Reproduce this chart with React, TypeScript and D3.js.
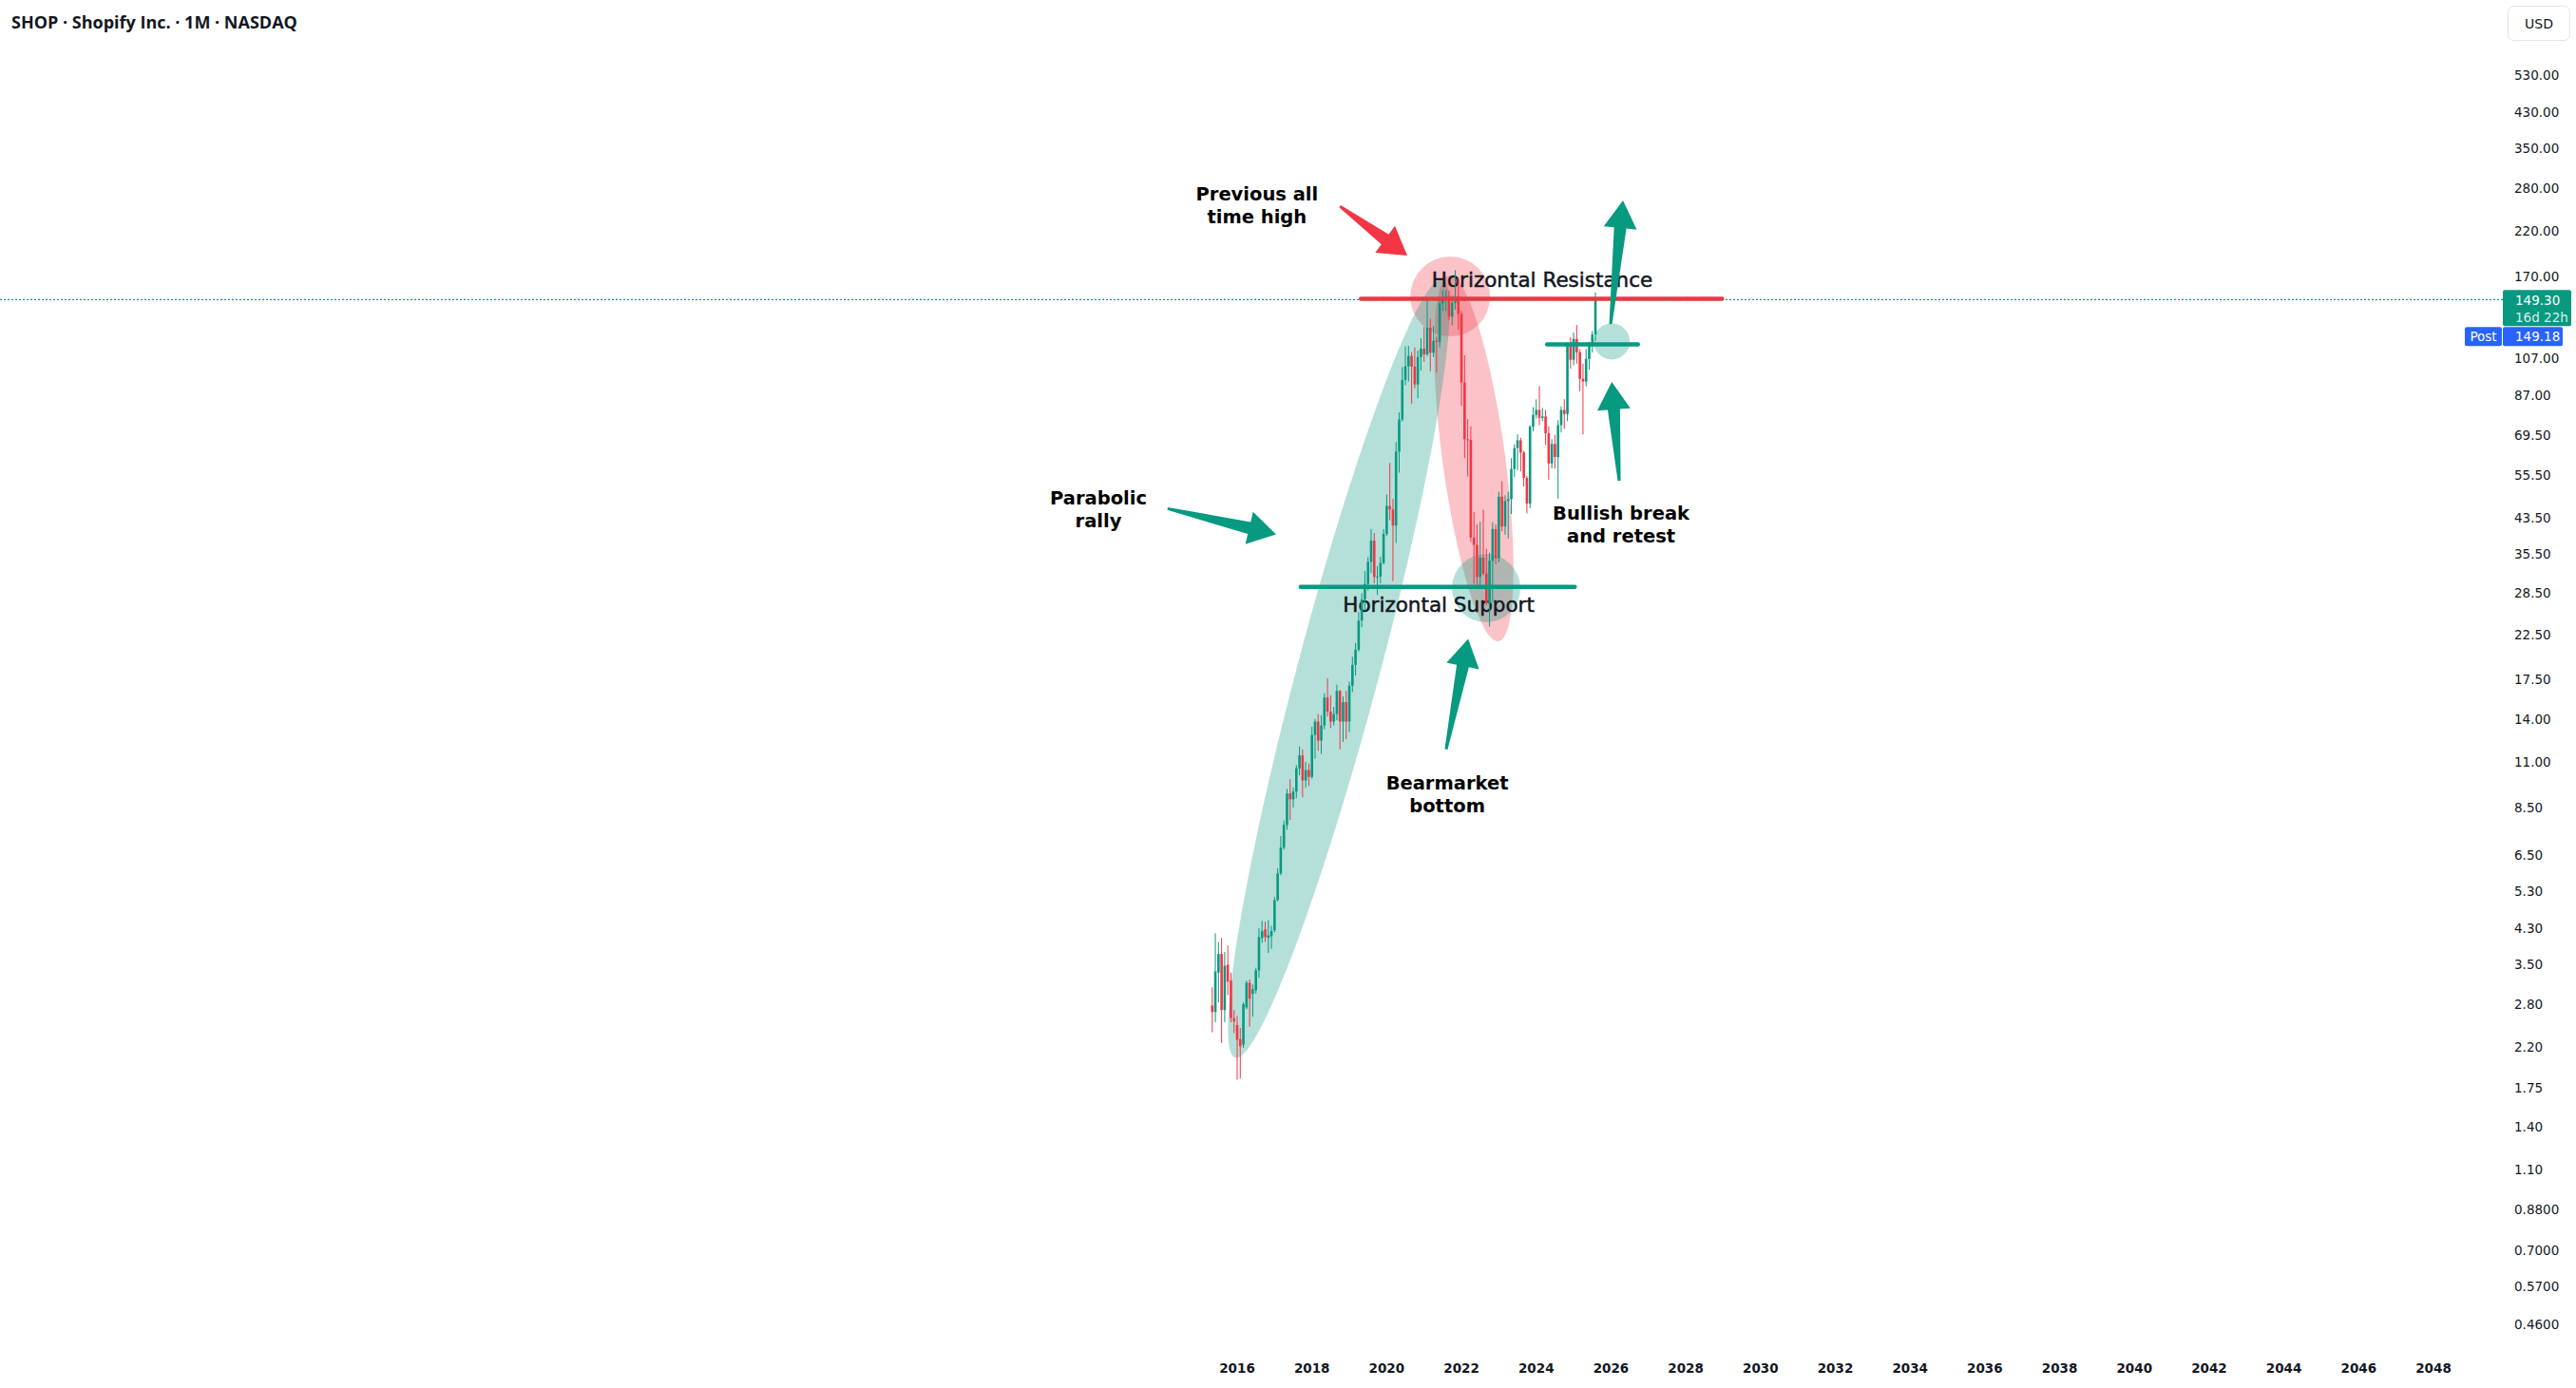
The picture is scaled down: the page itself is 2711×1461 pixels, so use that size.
import * as d3 from "d3";

// SHOP monthly candles (split-adjusted), first bar = May 2015, last bar = Aug 2025
const FIRST_MONTH = "2015-05";

const opens = [
  2.78, 2.68, 3.35, 3.72, 2.71, 3.5, 3.2, 2.59,
  2.49, 2.3, 2.23, 2.75, 3.16, 2.97, 3.03, 3.39, 4.07, 4.27, 4.07, 4.11,
  4.25, 5.04, 5.86, 6.78, 7.7, 9.2, 8.9, 9.3, 10.6, 11.4, 9.9, 10.5,
  10.1, 12.8, 13.8, 12.4, 13.5, 15.8, 14.6, 13.8, 14.4, 16.4, 13.8, 15.4,
  13.8, 16.9, 19.0, 20.7, 24.4, 27.5, 30.0, 34.0, 38.3, 31.2, 31.3, 33.8,
  39.8, 46.6, 45.7, 41.7, 63.3, 75.9, 94.9, 102.4, 108.6, 102.3, 92.5, 108.0,
  113.2, 109.6, 127.4, 110.6, 118.3, 117.6, 146.1, 149.9, 152.4, 135.6, 146.7, 152.2,
  137.7, 93.5, 67.9, 67.6, 39.0, 37.4, 31.2, 34.8, 31.8, 26.9, 34.2, 40.9,
  34.7, 49.1, 41.5, 47.9, 48.4, 57.4, 64.6, 67.5, 63.0, 54.6, 47.2, 72.9,
  77.9, 80.1, 76.6, 77.2, 70.2, 59.2, 66.1, 61.4, 73.5, 80.1, 78.3, 115.6,
  106.3, 119.6, 110.9, 95.5, 94.0, 106.8, 115.3, 122.6,
];

const highs = [
  3.08, 4.18, 3.98, 4.07, 3.76, 3.9, 3.35, 2.71,
  2.62, 2.45, 2.83, 3.2, 3.22, 3.13, 3.44, 4.3, 4.48, 4.46, 4.5, 4.36,
  5.13, 6.03, 7.23, 7.9, 9.44, 9.97, 9.52, 10.8, 12.0, 11.8, 11.0, 10.9,
  13.4, 14.0, 14.4, 14.3, 16.2, 17.6, 16.0, 15.0, 17.0, 16.5, 15.9, 16.4,
  17.3, 19.9, 21.5, 25.6, 28.5, 32.3, 34.9, 40.9, 40.0, 33.2, 35.0, 40.9,
  49.7, 59.4, 48.5, 66.9, 79.0, 102.0, 114.7, 115.0, 111.0, 114.0, 112.0, 120.0,
  128.0, 149.9, 134.0, 128.5, 121.0, 152.0, 157.5, 157.5, 157.0, 152.5, 176.2, 169.0,
  140.0, 109.0, 76.0, 73.0, 45.0, 42.0, 42.6, 45.6, 36.6, 35.8, 42.5, 42.0,
  50.5, 53.6, 49.5, 50.5, 61.0, 66.0, 69.8, 68.5, 63.6, 55.2, 73.5, 81.4,
  85.0, 91.6, 81.0, 80.1, 73.0, 67.9, 69.6, 75.6, 81.7, 85.1, 117.3, 120.7,
  124.0, 129.4, 113.0, 104.0, 113.0, 117.7, 125.0, 155.5,
];

const lows = [
  2.39, 2.53, 2.83, 2.25, 2.53, 2.95, 2.53, 2.38,
  1.83, 1.84, 2.19, 2.72, 2.47, 2.61, 2.97, 3.25, 3.96, 3.98, 3.74, 3.83,
  4.2, 5.0, 5.8, 6.7, 7.5, 7.92, 8.5, 8.95, 10.2, 9.0, 9.5, 9.6,
  10.0, 11.2, 11.7, 11.5, 13.2, 14.2, 13.3, 13.5, 13.9, 11.8, 12.3, 12.5,
  13.0, 16.3, 17.9, 20.5, 23.5, 25.8, 28.9, 31.9, 30.1, 28.2, 30.1, 33.5,
  39.3, 43.0, 30.5, 37.8, 56.2, 75.0, 92.0, 94.0, 83.0, 90.5, 85.5, 100.0,
  105.0, 108.5, 99.6, 108.0, 98.9, 114.0, 140.0, 140.0, 133.0, 129.0, 141.0, 126.0,
  82.0, 61.0, 55.0, 38.0, 30.0, 29.7, 29.6, 31.5, 26.6, 23.6, 27.0, 33.5,
  33.9, 40.4, 39.6, 38.8, 44.5, 54.8, 57.0, 56.6, 52.0, 44.7, 46.0, 71.0,
  76.3, 73.5, 75.2, 65.7, 54.0, 57.6, 57.5, 48.6, 70.5, 72.0, 75.2, 101.1,
  103.0, 104.0, 89.0, 69.8, 91.5, 100.5, 110.8, 118.0,
];

const closes = [
  2.68, 3.37, 3.72, 2.71, 3.48, 3.18, 2.59, 2.54,
  2.29, 2.21, 2.8, 3.16, 2.89, 3.05, 3.39, 4.09, 4.23, 4.09, 4.13, 4.23,
  5.04, 5.86, 6.78, 7.7, 9.2, 8.9, 9.3, 10.6, 11.4, 9.9, 10.5, 10.1,
  12.8, 13.8, 12.4, 13.5, 15.8, 14.6, 13.8, 14.4, 16.4, 13.8, 15.4, 13.8,
  16.9, 19.0, 20.7, 24.4, 27.5, 30.0, 34.0, 38.3, 31.2, 31.3, 33.8, 39.8,
  46.6, 45.7, 41.7, 63.3, 75.9, 94.9, 102.4, 108.6, 102.3, 92.5, 108.0, 113.2,
  109.6, 127.4, 110.6, 118.3, 117.6, 146.1, 149.9, 152.4, 135.6, 146.7, 152.2, 137.7,
  93.5, 67.9, 67.6, 39.0, 37.4, 31.2, 34.8, 31.8, 26.9, 34.2, 40.9, 34.7,
  49.1, 41.5, 47.9, 48.4, 57.4, 64.6, 67.5, 63.0, 54.6, 47.2, 72.9, 77.9,
  80.1, 76.6, 77.2, 70.2, 59.2, 66.1, 61.4, 73.5, 80.1, 78.3, 115.6, 106.3,
  119.6, 110.9, 95.5, 94.0, 106.8, 115.3, 122.6, 149.3,
];

// price axis labels (log scale)
const priceTicks = [
  530, 430, 350, 280, 220, 170, 107, 87, 69.5, 55.5, 43.5, 35.5, 28.5, 22.5, 17.5, 14, 11,
  8.5, 6.5, 5.3, 4.3, 3.5, 2.8, 2.2, 1.75, 1.4, 1.1, 0.88, 0.7, 0.57, 0.46,
];
const yearTicks = [
  2016, 2018, 2020, 2022, 2024, 2026, 2028, 2030, 2032, 2034, 2036, 2038, 2040, 2042, 2044, 2046, 2048,
];

const LAST_PRICE = 149.3;
const POST_PRICE = 149.18;
const BAR_COUNTDOWN = "16d 22h";

// drawings: anchors are [decimal year, price]
const hLines = [
  { from: [2017.7, 29.5], to: [2025.03, 29.5], color: "up" },
  { from: [2019.31, 150.0], to: [2028.97, 150.0], color: "down" },
  { from: [2024.29, 116.0], to: [2026.72, 116.0], color: "up" },
];
const ellipses = [
  { a: [2021.67, 170.9], b: [2022.99, 21.7], half: 33, color: "down" },
  { a: [2015.95, 2.07], b: [2021.49, 167.3], half: 43, color: "up" },
];
const circles = [
  { c: [2021.7, 151.9], r: 42, color: "down" },
  { c: [2022.66, 29.3], r: 36, color: "up" },
  { c: [2026.02, 117.9], r: 19, color: "up" },
];
const arrows = [
  { tail: [2018.75, 252.8], tip: [2020.55, 191.3], color: "down" },
  { tail: [2014.14, 45.9], tip: [2017.04, 39.7], color: "up" },
  { tail: [2021.59, 11.8], tip: [2022.18, 22.0], color: "up" },
  { tail: [2026.22, 53.7], tip: [2026.02, 93.8], color: "up" },
  { tail: [2025.99, 130.0], tip: [2026.32, 261.1], color: "up" },
];
const boldNotes = [
  { at: [2016.53, 261], lines: ["Previous all", "time high"] },
  { at: [2012.29, 46.9], lines: ["Parabolic", "rally"] },
  { at: [2021.62, 9.4], lines: ["Bearmarket", "bottom"] },
  { at: [2026.27, 43.1], lines: ["Bullish break", "and retest"] },
];
const levelNotes = [
  { at: [2021.39, 25.6], text: "Horizontal Support" },
  { at: [2024.16, 160.3], text: "Horizontal Resistance" },
];

const W = 2711;
const H = 1461;
const UP = "#089981";
const DOWN = "#F23645";
const BLUE = "#2962FF";
const TEXT = "#131722";
const AXIS_FONT = "'DejaVu Sans', Verdana, sans-serif";
const colorOf = (c: string) => (c === "up" ? UP : DOWN);

function arrowPath(x1: number, y1: number, x2: number, y2: number) {
  const tailW = 3, neckW = 13, headW = 35, headL = 29;
  const len = Math.hypot(x2 - x1, y2 - y1);
  const ux = (x2 - x1) / len, uy = (y2 - y1) / len;
  const nx = -uy, ny = ux;
  const bx = x2 - ux * headL, by = y2 - uy * headL;
  const p = [
    [x1 + (nx * tailW) / 2, y1 + (ny * tailW) / 2],
    [bx + (nx * neckW) / 2, by + (ny * neckW) / 2],
    [bx + (nx * headW) / 2, by + (ny * headW) / 2],
    [x2, y2],
    [bx - (nx * headW) / 2, by - (ny * headW) / 2],
    [bx - (nx * neckW) / 2, by - (ny * neckW) / 2],
    [x1 - (nx * tailW) / 2, y1 - (ny * tailW) / 2],
  ];
  return "M" + p.map((q) => q.join(",")).join("L") + "Z";
}

export default function App() {
  const x = d3.scaleLinear().domain([2016, 2048]).range([1302, 2561]);
  const y = d3.scaleLog().domain([530, 0.46]).range([79, 1394]);

  const [fy, fm] = FIRST_MONTH.split("-").map(Number);
  const t0 = fy + (fm - 1) / 12;
  const candles = closes.map((c, i) => ({
    t: t0 + i / 12,
    o: opens[i],
    h: highs[i],
    l: lows[i],
    c,
  }));

  const bodyW = 2.6;
  const fmt = (v: number) => (v >= 1 ? d3.format(".2f")(v) : d3.format(".4f")(v));
  const yLast = y(LAST_PRICE);
  const yPost = y(POST_PRICE);
  const axisX = 2634;

  return (
    <div style={{ position: "fixed", left: 0, top: 0 }}>
      <svg width={W} height={H} style={{ display: "block", background: "#fff" }}>
        {/* title */}
        <text x={12} y={30} fontFamily="'Open Sans', sans-serif" fontWeight={700} fontSize={18} fill={TEXT}>
          SHOP · Shopify Inc. · 1M · NASDAQ
        </text>

        {/* filled shapes */}
        <g>
          {circles.filter((d) => d.color === "down").map((d, i) => (
            <circle key={"cd" + i} cx={x(d.c[0])} cy={y(d.c[1])} r={d.r} fill={DOWN} fillOpacity={0.3} />
          ))}
          {ellipses.map((d, i) => {
            const ax = x(d.a[0]), ay = y(d.a[1]), bx = x(d.b[0]), by = y(d.b[1]);
            const cx = (ax + bx) / 2, cy = (ay + by) / 2;
            const rx = Math.hypot(bx - ax, by - ay) / 2;
            const deg = (Math.atan2(by - ay, bx - ax) * 180) / Math.PI;
            return (
              <ellipse
                key={"e" + i}
                cx={cx}
                cy={cy}
                rx={rx}
                ry={d.half}
                transform={`rotate(${deg} ${cx} ${cy})`}
                fill={colorOf(d.color)}
                fillOpacity={0.3}
              />
            );
          })}
          {circles.filter((d) => d.color === "up").map((d, i) => (
            <circle key={"cu" + i} cx={x(d.c[0])} cy={y(d.c[1])} r={d.r} fill={UP} fillOpacity={0.3} />
          ))}
        </g>

        {/* level captions */}
        {levelNotes.map((d, i) => (
          <text
            key={"ln" + i}
            x={x(d.at[0])}
            y={y(d.at[1])}
            textAnchor="middle"
            fontFamily={AXIS_FONT}
            fontSize={21.5}
            fill={TEXT}
            stroke={TEXT}
            strokeWidth={0.5}
          >
            {d.text}
          </text>
        ))}

        {/* candles */}
        <g>
          {candles.map((d, i) => {
            const cx = x(d.t);
            const col = d.c >= d.o ? UP : DOWN;
            const top = y(Math.max(d.o, d.c));
            const bot = y(Math.min(d.o, d.c));
            return (
              <g key={i} fill={col}>
                <rect x={cx - 0.5} y={y(d.h)} width={1} height={y(d.l) - y(d.h)} />
                <rect x={cx - bodyW / 2} y={top} width={bodyW} height={Math.max(1, bot - top)} />
              </g>
            );
          })}
        </g>

        {/* horizontal levels */}
        {hLines.map((d, i) => (
          <line
            key={"h" + i}
            x1={x(d.from[0])}
            x2={x(d.to[0])}
            y1={y(d.from[1])}
            y2={y(d.to[1])}
            stroke={colorOf(d.color)}
            strokeWidth={4.5}
            strokeLinecap="round"
          />
        ))}

        {/* last price / post-market lines */}
        <line x1={0} x2={axisX} y1={yLast} y2={yLast} stroke={UP} strokeWidth={1.2} strokeDasharray="2,6" />
        <line
          x1={0}
          x2={axisX}
          y1={yPost}
          y2={yPost}
          stroke={BLUE}
          strokeWidth={1.2}
          strokeDasharray="2,6"
          strokeDashoffset={4}
        />

        {/* arrows */}
        {arrows.map((d, i) => (
          <path
            key={"a" + i}
            d={arrowPath(x(d.tail[0]), y(d.tail[1]), x(d.tip[0]), y(d.tip[1]))}
            fill={colorOf(d.color)}
            strokeLinejoin="round"
          />
        ))}

        {/* bold notes */}
        {boldNotes.map((d, i) => (
          <text
            key={"bn" + i}
            x={x(d.at[0])}
            y={y(d.at[1])}
            textAnchor="middle"
            fontFamily={AXIS_FONT}
            fontWeight={700}
            fontSize={19.5}
            fill="#000"
          >
            {d.lines.map((s, j) => (
              <tspan key={j} x={x(d.at[0])} dy={j === 0 ? 0 : 24}>
                {s}
              </tspan>
            ))}
          </text>
        ))}

        {/* price axis */}
        <g fontFamily={AXIS_FONT} fontSize={13.5} fill={TEXT}>
          {priceTicks.map((v) => (
            <text key={v} x={2646} y={y(v)} dy="0.36em">
              {fmt(v)}
            </text>
          ))}
        </g>
        <g fontFamily={AXIS_FONT} fontSize={13.5}>
          <rect x={axisX} y={yLast - 10} width={72} height={38} rx={2} fill={UP} />
          <text x={2647} y={yLast + 1} dy="0.36em" fill="#fff">
            {LAST_PRICE.toFixed(2)}
          </text>
          <text x={2647} y={yLast + 19} dy="0.36em" fill="#fff" fillOpacity={0.85}>
            {BAR_COUNTDOWN}
          </text>
          <rect x={2594} y={yLast + 29} width={39} height={20} rx={2} fill={BLUE} />
          <text x={2613.5} y={yLast + 39} dy="0.36em" textAnchor="middle" fill="#fff">
            Post
          </text>
          <rect x={axisX} y={yLast + 29} width={63} height={20} rx={2} fill={BLUE} />
          <text x={2647} y={yLast + 39} dy="0.36em" fill="#fff">
            {POST_PRICE.toFixed(2)}
          </text>
        </g>

        {/* currency button */}
        <rect x={2639.5} y={6.5} width={65} height={36} rx={6} fill="#fff" stroke="#e0e3eb" />
        <text x={2672} y={25} dy="0.36em" textAnchor="middle" fontFamily={AXIS_FONT} fontSize={14} fill={TEXT}>
          USD
        </text>

        {/* time axis */}
        <g fontFamily={AXIS_FONT} fontSize={13.5} fontWeight={600} fill={TEXT} textAnchor="middle">
          {yearTicks.map((yr) => (
            <text key={yr} x={x(yr)} y={1440} dy="0.36em">
              {yr}
            </text>
          ))}
        </g>
      </svg>
    </div>
  );
}
